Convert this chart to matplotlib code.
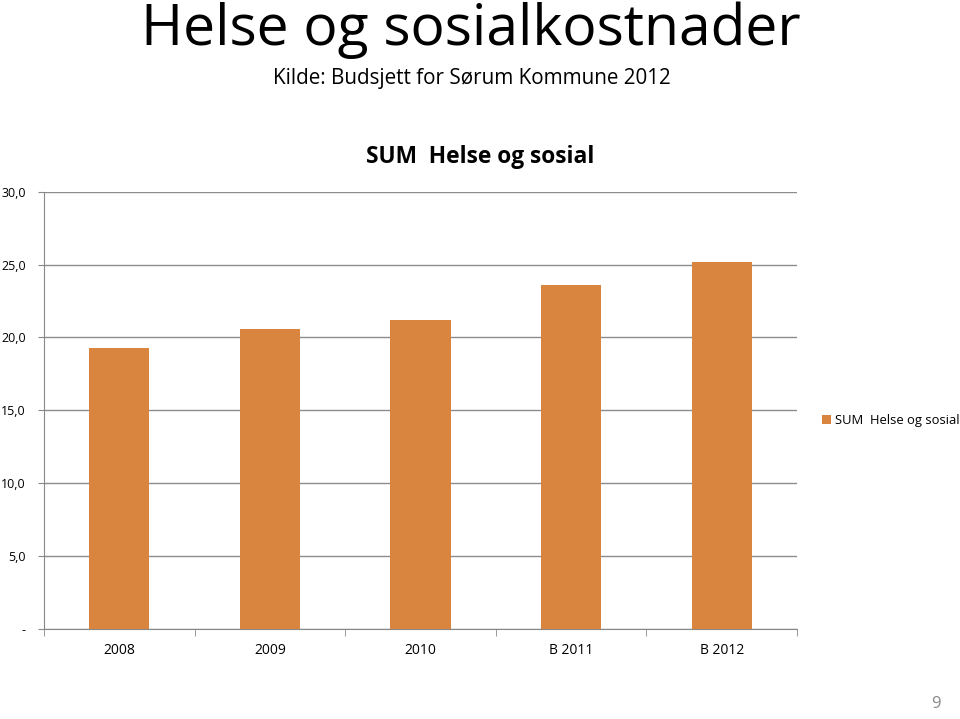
import matplotlib.pyplot as plt
import numpy as np

# ----------------------------
# Data
# ----------------------------
categories = ["2008", "2009", "2010", "B 2011", "B 2012"]
values = [19.3, 20.6, 21.2, 23.6, 25.2]
series_name = "SUM  Helse og sosial"
y_ticks = [0, 5, 10, 15, 20, 25, 30]
y_tick_labels = ["-", "5,0", "10,0", "15,0", "20,0", "25,0", "30,0"]

plt.rcParams['font.family'] = ['Open Sans', 'DejaVu Sans']

fig = plt.figure(figsize=(9.6, 7.19), dpi=100)
ax = fig.add_axes([0.0458, 0.1252, 0.7844, 0.6082])

x = np.arange(len(categories))
ax.bar(x, values, width=0.4, color="#D9843F", label=series_name, zorder=3)

ax.set_xlim(-0.5, len(categories) - 0.5)
ax.set_ylim(0, 30)
ax.set_yticks(y_ticks)
ax.set_yticklabels(y_tick_labels, fontsize=9)
ax.set_xticks(x)
ax.set_xticklabels(categories, fontsize=10)
ax.tick_params(axis="x", length=0, pad=10)
ax.tick_params(axis="y", length=4, color="#888888", pad=9)

# category boundary ticks on x axis
ax.set_xticks(np.arange(-0.5, len(categories)), minor=True)
ax.tick_params(axis="x", which="minor", length=5, color="#888888")

ax.grid(axis="y", color="#8c8c8c", linewidth=1, zorder=0)
for side in ["top", "right"]:
    ax.spines[side].set_visible(False)
ax.spines["left"].set_color("#888888")
ax.spines["bottom"].set_color("#888888")

fig.text(0.5, 0.781, "SUM  Helse og sosial", ha="center", va="center",
         fontsize=16.4, fontweight="bold")

fig.legend(loc="center left", bbox_to_anchor=(0.856, 0.415), frameon=False,
           fontsize=9.4, handlelength=0.7, handleheight=0.7, handletextpad=0.3,
           borderaxespad=0, borderpad=0)

fig.text(0.49, 0.958, "Helse og sosialkostnader", ha="center", va="center", fontsize=41)
fig.text(0.492, 0.891, "Kilde: Budsjett for Sørum Kommune 2012", ha="center", va="center",
         fontsize=14.9)
fig.text(0.98, 0.01, "9", ha="right", va="bottom", fontsize=12, color="#888888")

fig.savefig("out.png", dpi=100)
